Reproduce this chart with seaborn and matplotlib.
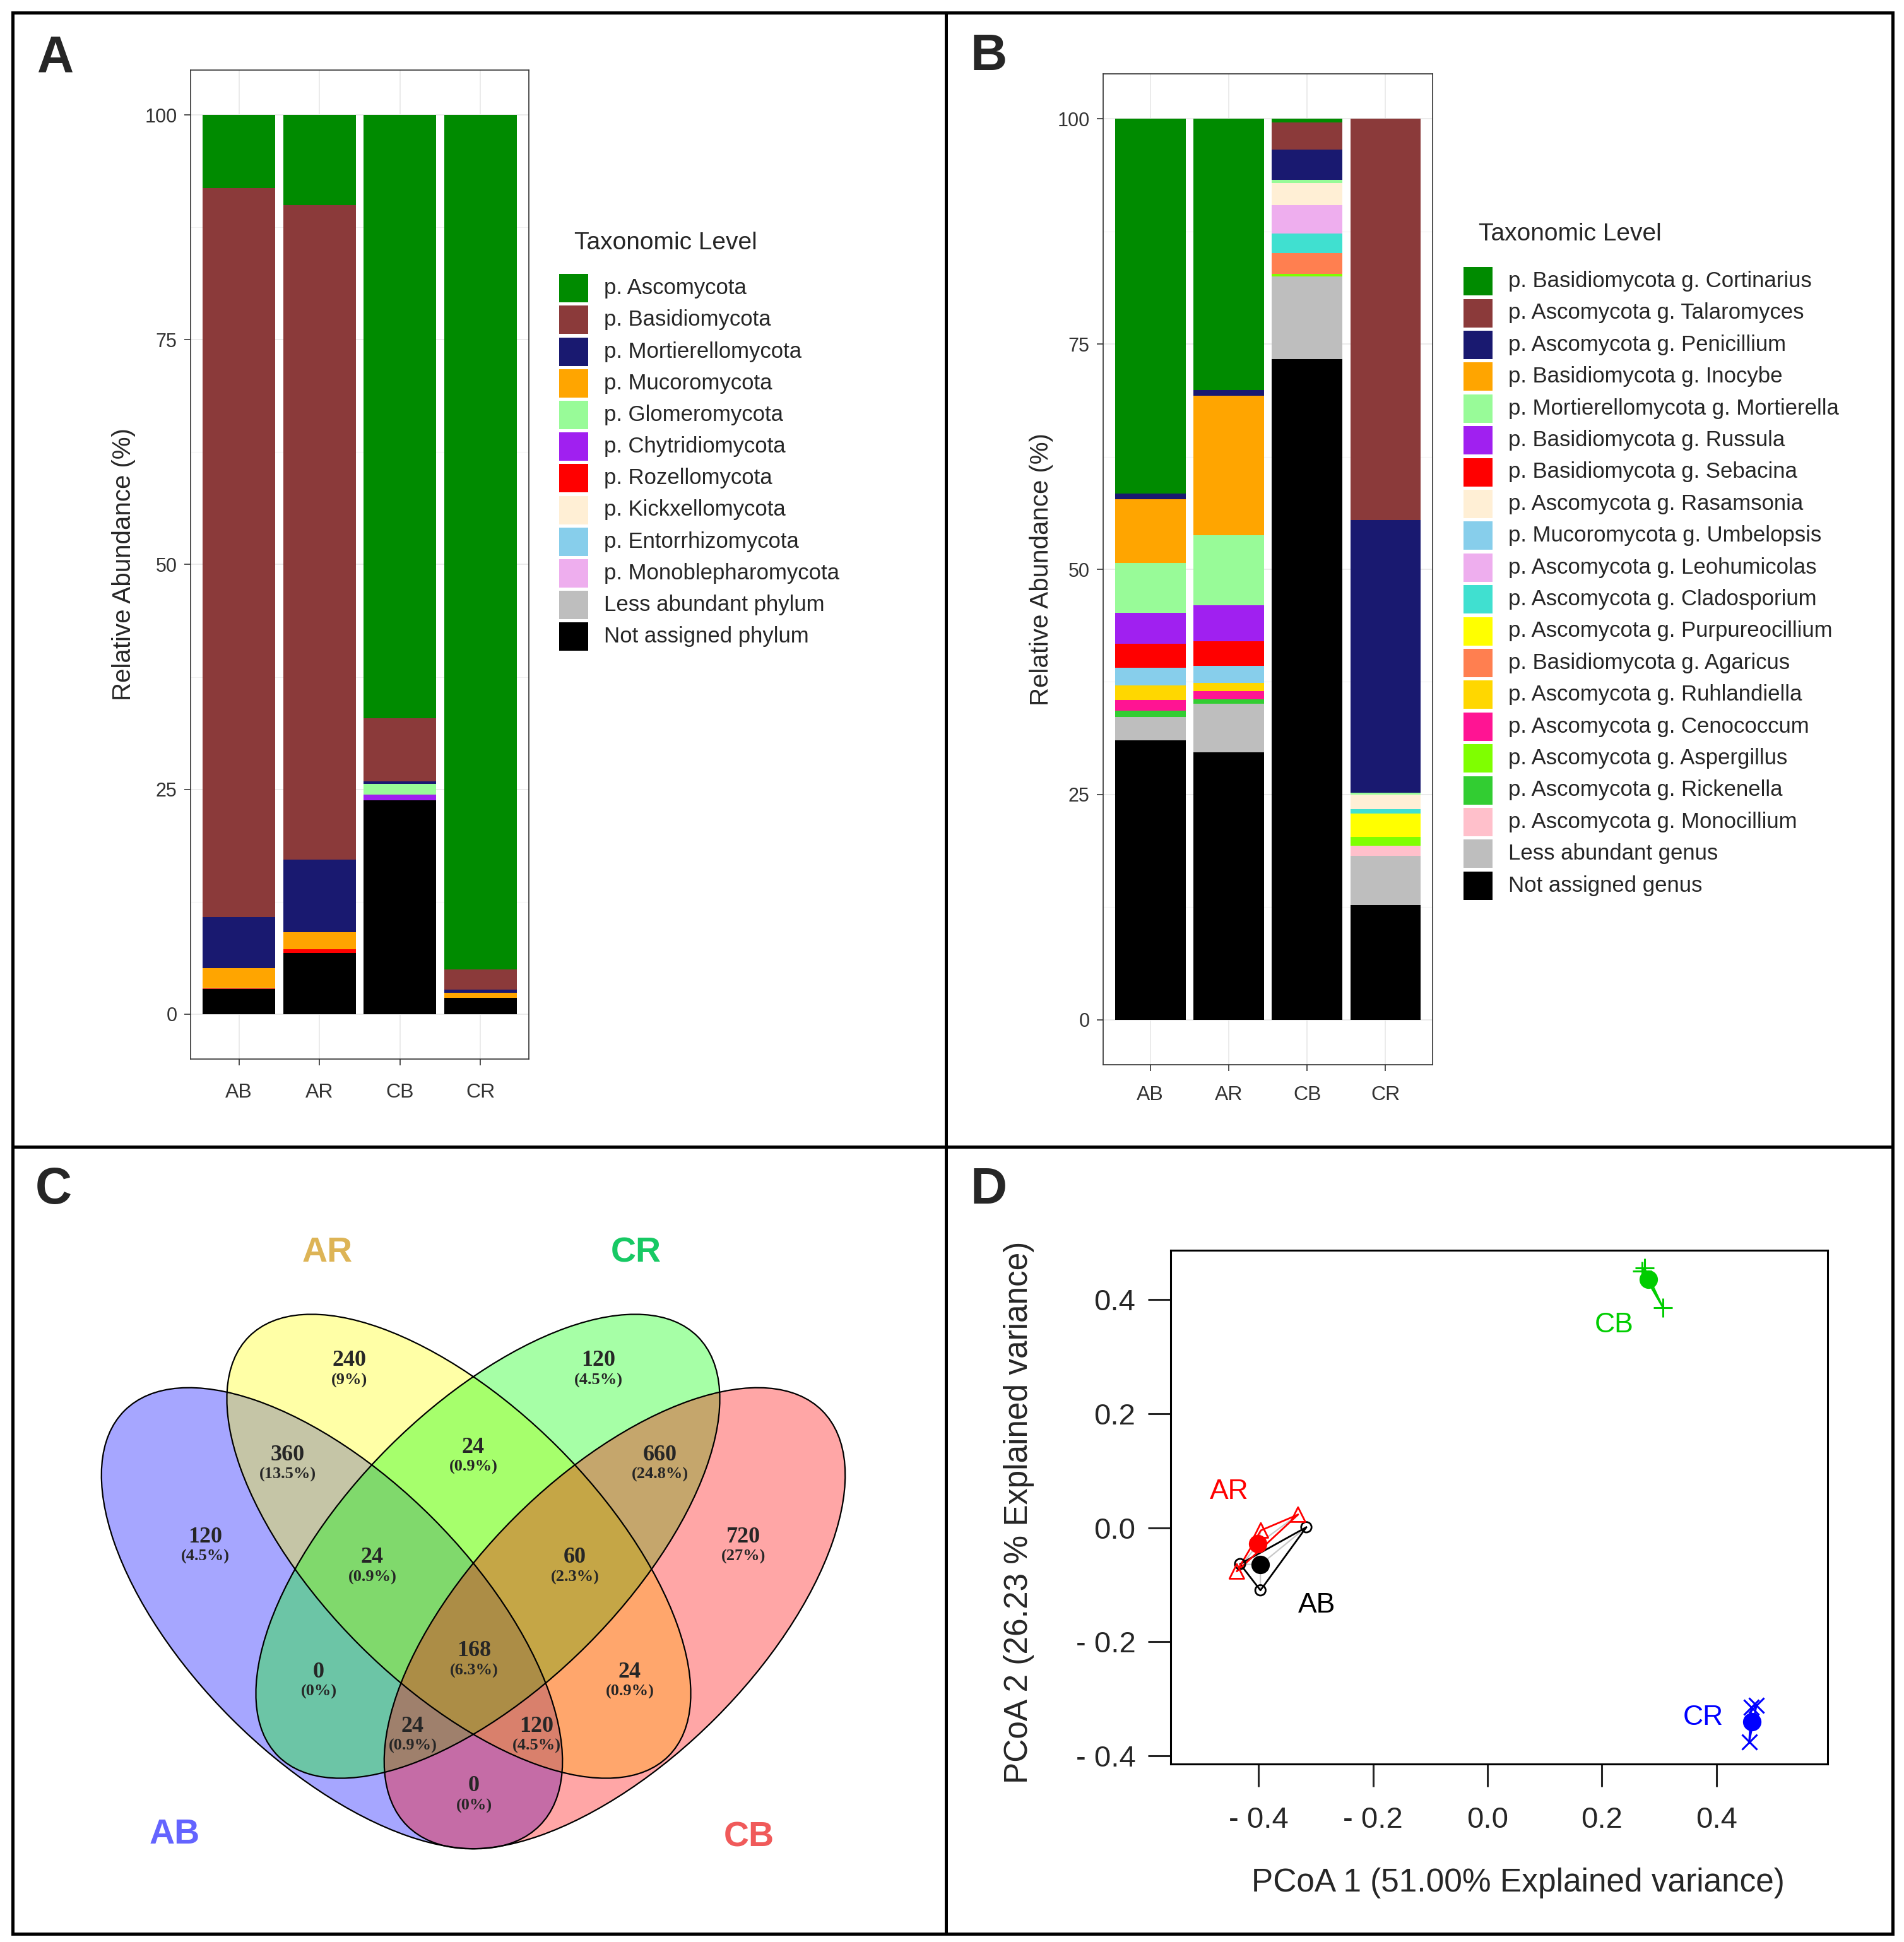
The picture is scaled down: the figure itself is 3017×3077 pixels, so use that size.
import numpy as np
import pandas as pd
import seaborn as sns
import matplotlib.pyplot as plt
from matplotlib.patches import Ellipse, Rectangle

sns.set_style("white")
plt.rcParams['font.family'] = ['Liberation Sans', 'DejaVu Sans']

W, H = 3017, 3077

# ---------------- data ----------------
sites = ['AB', 'AR', 'CB', 'CR']

# panel A, phylum level (legend order, top of stack first)
phylum_labels = ['p. Ascomycota', 'p. Basidiomycota', 'p. Mortierellomycota', 'p. Mucoromycota',
                 'p. Glomeromycota', 'p. Chytridiomycota', 'p. Rozellomycota', 'p. Kickxellomycota',
                 'p. Entorrhizomycota', 'p. Monoblepharomycota', 'Less abundant phylum',
                 'Not assigned phylum']
phylum_colors = ['#008B00', '#8B3A3A', '#191970', '#FFA500', '#98FB98', '#A020F0', '#FF0000',
                 '#FFEFD5', '#87CEEB', '#EEAEEE', '#BEBEBE', '#000000']
phylum_AB = [8.1, 81.1, 5.7, 2.2, 0.05, 0.0, 0.05, 0.0, 0.0, 0.0, 0.0, 2.8]
phylum_AR = [10.0, 72.8, 8.1, 1.9, 0.0, 0.0, 0.4, 0.0, 0.0, 0.0, 0.0, 6.8]
phylum_CB = [67.1, 7.0, 0.3, 0.0, 1.2, 0.6, 0.0, 0.0, 0.0, 0.0, 0.0, 23.8]
phylum_CR = [95.0, 2.3, 0.3, 0.6, 0.0, 0.0, 0.0, 0.0, 0.0, 0.0, 0.0, 1.8]

# panel B, genus level
genus_labels = ['p. Basidiomycota g. Cortinarius', 'p. Ascomycota g. Talaromyces',
                'p. Ascomycota g. Penicillium', 'p. Basidiomycota g. Inocybe',
                'p. Mortierellomycota g. Mortierella', 'p. Basidiomycota g. Russula',
                'p. Basidiomycota g. Sebacina', 'p. Ascomycota g. Rasamsonia',
                'p. Mucoromycota g. Umbelopsis', 'p. Ascomycota g. Leohumicolas',
                'p. Ascomycota g. Cladosporium', 'p. Ascomycota g. Purpureocillium',
                'p. Basidiomycota g. Agaricus', 'p. Ascomycota g. Ruhlandiella',
                'p. Ascomycota g. Cenococcum', 'p. Ascomycota g. Aspergillus',
                'p. Ascomycota g. Rickenella', 'p. Ascomycota g. Monocillium',
                'Less abundant genus', 'Not assigned genus']
genus_colors = ['#008B00', '#8B3A3A', '#191970', '#FFA500', '#98FB98', '#A020F0', '#FF0000',
                '#FFEFD5', '#87CEEB', '#EEAEEE', '#40E0D0', '#FFFF00', '#FF7F50', '#FFD700',
                '#FF1493', '#7FFF00', '#32CD32', '#FFC0CB', '#BEBEBE', '#000000']
genus_AB = [41.6, 0.0, 0.6, 7.1, 5.5, 3.5, 2.6, 0.0, 2.0, 0.0, 0.0, 0.0, 0.0, 1.6, 1.2, 0.0, 0.7, 0.0, 2.6, 31.0]
genus_AR = [30.1, 0.0, 0.6, 15.5, 7.8, 4.0, 2.7, 0.0, 1.9, 0.0, 0.0, 0.0, 0.0, 0.9, 0.9, 0.0, 0.5, 0.0, 5.4, 29.7]
genus_CB = [0.4, 3.0, 3.4, 0.0, 0.3, 0.0, 0.0, 2.5, 0.0, 3.1, 2.2, 0.0, 2.3, 0.0, 0.0, 0.3, 0.0, 0.0, 9.2, 73.3]
genus_CR = [0.0, 44.5, 30.3, 0.0, 0.2, 0.0, 0.0, 1.6, 0.0, 0.0, 0.5, 2.6, 0.0, 0.0, 0.0, 1.0, 0.0, 1.1, 5.5, 12.7]

# panel C, Venn region counts
venn_regions = ['AR', 'CR', 'AB&AR', 'AR&CR', 'CR&CB', 'AB', 'CB', 'AB&AR&CR', 'AR&CR&CB',
                'AB&AR&CR&CB', 'AB&CR', 'AR&CB', 'AB&CR&CB', 'AB&AR&CB', 'AB&CB']
venn_counts = [240, 120, 360, 24, 660, 120, 720, 24, 60, 168, 0, 24, 24, 120, 0]

# panel D, PCoA scores
pcoa_groups = ['AB', 'AR', 'CB', 'CR']
pcoa_x = {'AB': [-0.3165, -0.4323, -0.3967], 'AR': [-0.331, -0.396, -0.438],
          'CB': [0.2743, 0.2699, 0.3066], 'CR': [0.461, 0.4701, 0.4573]}
pcoa_y = {'AB': [0.0008, -0.0637, -0.1097], 'AR': [0.0229, -0.0048, -0.0766],
          'CB': [0.4546, 0.4491, 0.3856], 'CR': [-0.3141, -0.3116, -0.3749]}
centroid_x = {'AB': -0.397, 'AR': -0.401, 'CB': 0.2808, 'CR': 0.4618}
centroid_y = {'AB': -0.0650, 'AR': -0.0287, 'CB': 0.4354, 'CR': -0.3403}
label_xy = {'AB': (-0.298, -0.1355), 'AR': (-0.451, 0.0626), 'CB': (0.221, 0.355), 'CR': (0.377, -0.3325)}
pcoa_colors = {'AB': '#000000', 'AR': '#FF0000', 'CB': '#00CD00', 'CR': '#0000FF'}
pcoa_markers = {'AB': 'o', 'AR': '^', 'CB': '+', 'CR': 'x'}


def long_table(labels, rows):
    recs = []
    for site, vals in zip(sites, rows):
        for lab, v in zip(labels, vals):
            recs.append((site, lab, v))
    return pd.DataFrame(recs, columns=['site', 'taxon', 'value'])


df_phylum = long_table(phylum_labels, [phylum_AB, phylum_AR, phylum_CB, phylum_CR])
df_genus = long_table(genus_labels, [genus_AB, genus_AR, genus_CB, genus_CR])

fig = plt.figure(figsize=(W / 100, H / 100), dpi=100)

# overlay in pixel coordinates for frame, letters, legends and Venn
ov = fig.add_axes([0, 0, 1, 1], zorder=-1)
ov.set_xlim(0, W)
ov.set_ylim(H, 0)
ov.set_axis_off()


def fig_rect(l, t, r, b):
    return [l / W, 1 - b / H, (r - l) / W, (b - t) / H]


def stacked_panel(rect, df, labels, colors, ylab_x, xpad):
    ax = fig.add_axes(fig_rect(*rect))
    sns.histplot(data=df, x='site', weights='value', hue='taxon', hue_order=labels,
                 palette=dict(zip(labels, colors)), multiple='stack', discrete=True,
                 shrink=0.9, linewidth=0, alpha=1, legend=False, ax=ax)
    ax.set_xlim(-0.6, 3.6)
    ax.set_ylim(-5, 105)
    ax.set_yticks([0, 25, 50, 75, 100])
    ax.set_yticks([12.5, 37.5, 62.5, 87.5], minor=True)
    ax.set_xticks(range(4))
    ax.set_xticklabels(sites)
    ax.grid(which='major', color='#EBEBEB', lw=1.4)
    ax.grid(which='minor', axis='y', color='#F2F2F2', lw=0.8)
    ax.set_axisbelow(True)
    for s in ax.spines.values():
        s.set_color('#333333')
        s.set_linewidth(1.2)
    ax.tick_params(axis='both', which='major', length=7.5, width=1.2, color='#333333',
                   labelcolor='#333333', left=True, bottom=True)
    ax.tick_params(axis='y', which='minor', length=0)
    ax.tick_params(axis='y', pad=8, labelsize=22)
    ax.tick_params(axis='x', pad=xpad, labelsize=23)
    ax.set_xlabel('')
    ax.set_ylabel('')
    ax.text(ylab_x, 0.5, 'Relative Abundance (%)', transform=ax.transAxes, rotation=90,
            ha='center', va='center', fontsize=29)
    return ax


stacked_panel((302, 111, 838, 1678), df_phylum, phylum_labels, phylum_colors, -0.198, 20)
stacked_panel((1748, 117, 2270, 1687), df_genus, genus_labels, genus_colors, -0.188, 16)


def legend_block(x_key, y_first, pitch, x_title, y_title, labels, colors):
    ov.text(x_title, y_title, 'Taxonomic Level', fontsize=28, ha='left', va='center')
    for i, (lab, col) in enumerate(zip(labels, colors)):
        yc = y_first + i * pitch
        ov.add_patch(Rectangle((x_key, yc - 22.5), 46, 45, fc=col, ec='none'))
        ov.text(x_key + 71, yc, lab, fontsize=25, ha='left', va='center')


legend_block(886, 456.6, 50.2, 910, 385, phylum_labels, phylum_colors)
legend_block(2319, 445.6, 50.4, 2343, 371, genus_labels, genus_colors)

# ---------------- Venn ----------------
ellipses = [((526, 2564), 465, 225, 45, '#0000FF'),
            ((727, 2450), 470, 222, 45, '#FFFF00'),
            ((773, 2450), 470, 222, -45, '#00FF00'),
            ((974, 2564), 465, 225, -45, '#FF0000')]
for c, a, b, ang, col in ellipses:
    ov.add_patch(Ellipse(c, 2 * a, 2 * b, angle=ang, fc=col, alpha=0.35, ec='none'))
for c, a, b, ang, col in ellipses:
    ov.add_patch(Ellipse(c, 2 * a, 2 * b, angle=ang, fill=False, ec='black', lw=1.6))

venn_pos = [(554, 2156), (948, 2156), (456, 2305), (750, 2293), (1046, 2305), (325, 2435),
            (1178, 2435), (590, 2468), (911, 2468), (751, 2616), (505, 2649), (998, 2649),
            (654, 2735), (850, 2735), (751, 2830)]
total = sum(venn_counts)
for (x, y), n in zip(venn_pos, venn_counts):
    pct = round(n / total * 100, 1)
    ov.text(x, y, str(n), fontsize=26, fontweight='bold', family='Liberation Serif',
            ha='center', va='center')
    ov.text(x, y + 31, f'({pct:g}%)', fontsize=19, fontweight='bold', family='Liberation Serif',
            ha='center', va='center')

set_labels = [('AR', 519, 1985, '#DDB456'), ('CR', 1008, 1985, '#17C964'),
              ('AB', 277, 2907, '#6464FF'), ('CB', 1187, 2912, '#F05A5A')]
for t, x, y, col in set_labels:
    ov.text(x, y, t, fontsize=40, fontweight='bold', color=col, ha='center', va='center')

# ---------------- PCoA ----------------
axd = fig.add_axes(fig_rect(1855, 1981, 2896, 2795))
for g in pcoa_groups:
    col = pcoa_colors[g]
    xs, ys = pcoa_x[g], pcoa_y[g]
    cx, cy = centroid_x[g], centroid_y[g]
    for px, py in zip(xs, ys):
        axd.plot([cx, px], [cy, py], color='#C8C8C8', lw=1.6, zorder=2)
    axd.plot(xs + xs[:1], ys + ys[:1], color=col, lw=2.0, zorder=3)
    pts = pd.DataFrame({'x': xs, 'y': ys})
    if pcoa_markers[g] in ('o', '^'):
        sns.scatterplot(data=pts, x='x', y='y', marker=pcoa_markers[g], s=140 if g == 'AB' else 280,
                        facecolors='none', edgecolor=col, linewidth=2.0, ax=axd, zorder=4)
    else:
        sns.scatterplot(data=pts, x='x', y='y', marker=pcoa_markers[g], s=480 if g == 'CB' else 300,
                        color=col, edgecolor=col, linewidth=2.2, ax=axd, zorder=4)
    sns.scatterplot(x=[cx], y=[cy], color=col, edgecolor=col, s=380, ax=axd, zorder=5)
    lx, ly = label_xy[g]
    axd.text(lx, ly, g, color=col, fontsize=32, ha='center', va='center')

axd.set_xlim(-0.5536, 0.5944)
axd.set_ylim(-0.414, 0.4859)
ticks = [-0.4, -0.2, 0.0, 0.2, 0.4]
tick_labels = [f'- {abs(v):.1f}' if v < 0 else f'{v:.1f}' for v in ticks]
axd.set_xticks(ticks)
axd.set_xticklabels(tick_labels)
axd.set_yticks(ticks)
axd.set_yticklabels(tick_labels)
for s in axd.spines.values():
    s.set_color('black')
    s.set_linewidth(2.2)
axd.tick_params(axis='both', direction='out', length=26, width=2.2, labelsize=34,
                left=True, bottom=True)
axd.tick_params(axis='y', pad=14)
axd.tick_params(axis='x', pad=22)
axd.set_xlabel('')
axd.set_ylabel('')
axd.text(0.529, -0.231, 'PCoA 1 (51.00% Explained variance)', transform=axd.transAxes,
         fontsize=37, ha='center', va='center')
axd.text(-0.2315, 0.49, 'PCoA 2 (26.23 % Explained variance)', transform=axd.transAxes,
         fontsize=37, ha='center', va='center', rotation=90)

# ---------------- frame and panel letters ----------------
ov.add_patch(Rectangle((20, 20), 2979, 3044, fill=False, ec='black', lw=3.6))
ov.plot([1499, 1499], [20, 3064], color='black', lw=3.6)
ov.plot([20, 2999], [1817, 1817], color='black', lw=3.6)
for t, x, y in [('A', 88, 93), ('B', 1567, 90), ('C', 85, 1886), ('D', 1567, 1886)]:
    ov.text(x, y, t, fontsize=58, fontweight='bold', ha='center', va='center')

fig.savefig('out.png', dpi=100)
